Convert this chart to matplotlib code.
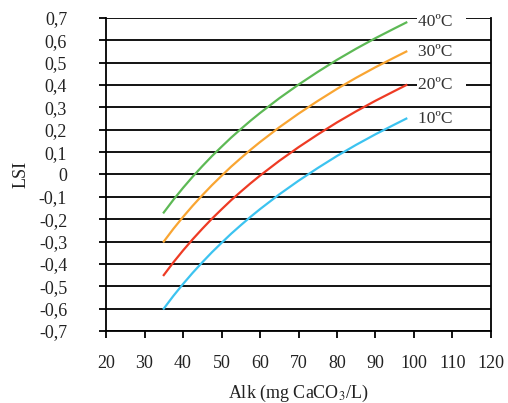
import matplotlib.pyplot as plt
from matplotlib.ticker import FuncFormatter

plt.rcParams['font.family'] = ['Liberation Serif', 'DejaVu Serif']
plt.rcParams['mathtext.fontset'] = 'stix'

ftSize = 13

# alkalinity (mg CaCO3/L) and LSI
alk = [35, 37.5, 40, 42.5, 45, 47.5, 50, 52.5, 55, 57.5, 60, 65, 70, 75, 80, 85, 90, 95, 98]
lsi10 = [-0.600, -0.543, -0.490, -0.440, -0.393, -0.348, -0.306, -0.265, -0.227, -0.190,
         -0.155, -0.089, -0.028, 0.029, 0.083, 0.133, 0.180, 0.224, 0.250]
lsi20 = [-0.450, -0.393, -0.340, -0.290, -0.243, -0.198, -0.156, -0.115, -0.077, -0.040,
         -0.005, 0.061, 0.122, 0.179, 0.233, 0.283, 0.330, 0.374, 0.400]
lsi30 = [-0.300, -0.243, -0.190, -0.140, -0.093, -0.048, -0.006, 0.035, 0.073, 0.110,
         0.145, 0.211, 0.272, 0.329, 0.383, 0.433, 0.480, 0.524, 0.550]
lsi40 = [-0.170, -0.113, -0.060, -0.010, 0.037, 0.082, 0.124, 0.165, 0.203, 0.240,
         0.275, 0.341, 0.402, 0.459, 0.513, 0.563, 0.610, 0.654, 0.680]

series = [lsi10, lsi20, lsi30, lsi40]
names = ['10ºC', '20ºC', '30ºC', '40ºC']
cl = ['#3cc3f0', '#ee3b24', '#f9a532', '#5db955']

xticks = [20, 30, 40, 50, 60, 70, 80, 90, 100, 110, 120]
yticks = [-0.7, -0.6, -0.5, -0.4, -0.3, -0.2, -0.1, 0, 0.1, 0.2, 0.3, 0.4, 0.5, 0.6, 0.7]

fig = plt.figure(figsize=(5.08, 4.03), dpi=100)
ax = fig.add_axes([0.2087, 0.1787, 0.7578, 0.7766])

for y in yticks:
    ax.axhline(y, color='k', linewidth=1.3, zorder=1)

for vals, name, c in zip(series, names, cl):
    ax.plot(alk, vals, color=c, linewidth=1.6, zorder=2)
    ax.text(alk[-1] + 3, vals[-1], name + '   ', fontsize=12.5, color='#333333',
            ha='left', va='center', zorder=4,
            bbox=dict(boxstyle='square,pad=0.05', facecolor='white', edgecolor='none'))

ax.set_xlim(20, 120)
ax.set_ylim(-0.7, 0.7)
ax.set_xticks(xticks)
ax.set_yticks(yticks)

def fmt(v, pos):
    if abs(v) < 1e-9:
        return '0'
    return ('%.1f' % v).replace('.', ',')

ax.yaxis.set_major_formatter(FuncFormatter(fmt))
ax.tick_params(axis='y', direction='out', length=5, width=1.3, pad=23, labelsize=ftSize, labelcolor='#222222')
ax.tick_params(axis='x', direction='out', length=5, width=1.3, pad=12, labelsize=ftSize, labelcolor='#222222')

for s in ['left', 'right', 'bottom']:
    ax.spines[s].set_linewidth(1.3)
ax.spines['top'].set_visible(False)

ax.set_xlabel('Alk (mg CaCO$_3$/L)', fontsize=ftSize, labelpad=8, color='#222222')
ax.set_ylabel('LSI', fontsize=ftSize, labelpad=7, color='#222222')

plt.savefig('out.png', dpi=100)
